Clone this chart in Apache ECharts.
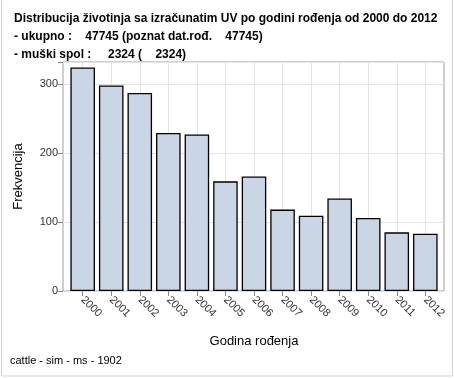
<!DOCTYPE html>
<html>
<head>
<meta charset="utf-8">
<script src="https://cdn.jsdelivr.net/npm/echarts@6/dist/echarts.min.js"></script>
<style>
  html, body { margin: 0; padding: 0; background: #fff; }
  #chart { width: 454px; height: 378px; }
</style>
</head>
<body>
<div id="chart"></div>
<script>
// godine rođenja i frekvencije (očitano sa slike)
const years = ['2000', '2001', '2002', '2003', '2004', '2005', '2006',
               '2007', '2008', '2009', '2010', '2011', '2012'];
const counts = [324, 298, 287, 229, 227, 159, 166, 118, 109, 134, 106, 85, 83];
const yTicks = [0, 100, 200, 300];
const yMax = 332;

const titleLines = [
    'Distribucija životinja sa izračunatim UV po godini rođenja od 2000 do 2012',
    '- ukupno :    47745 (poznat dat.rođ.    47745)',
    '- muški spol :     2324 (    2324)'
];
const footnote = 'cattle - sim - ms - 1902';

const font = '"Liberation Sans", Arial, sans-serif';
const myChart = echarts.init(document.getElementById('chart'), null, { renderer: 'canvas' });

const option = {
    animation: false,
    textStyle: { fontFamily: font },
    title: {
        text: titleLines.join('\n'),
        left: 9,
        top: 5,
        textStyle: { fontSize: 12, fontWeight: 'bold', color: '#000', lineHeight: 18, fontFamily: font }
    },
    graphic: [
        {
            type: 'rect',
            shape: { x: 1.5, y: -5, width: 451, height: 381 },
            style: { fill: null, stroke: '#d4d4d4', lineWidth: 1 },
            silent: true
        },
        {
            type: 'text',
            left: 10,
            top: 355,
            style: { text: footnote, fontSize: 11, fill: '#000', fontFamily: font }
        }
    ],
    grid: [
        // stupci (s razmakom na rubovima)
        { left: 68.4, right: 14.4, top: 62, bottom: 87 },
        // okvir i horizontalne linije
        { left: 63, right: 10, top: 62, bottom: 87, show: true, borderColor: '#a0a0a0', borderWidth: 1, backgroundColor: 'transparent' }
    ],
    xAxis: [
        {
            type: 'category',
            gridIndex: 0,
            data: years,
            name: 'Godina rođenja',
            nameLocation: 'middle',
            nameGap: 44,
            nameTextStyle: { fontSize: 13, color: '#000', fontFamily: font },
            axisLine: { show: false },
            axisTick: { show: true, alignWithLabel: true, length: 5, lineStyle: { color: '#888' } },
            axisLabel: { rotate: -45, margin: 7, fontSize: 11, color: '#333', interval: 0, fontFamily: font },
            splitLine: { show: true, alignWithLabel: true, interval: 0, lineStyle: { color: '#e3e3e3' } },
            z: 1
        },
        {
            type: 'category',
            gridIndex: 1,
            data: years,
            show: false
        }
    ],
    yAxis: [
        {
            type: 'value',
            gridIndex: 0,
            min: 0,
            max: yMax,
            interval: 100,
            show: false,
            splitLine: { show: false }
        },
        {
            type: 'value',
            gridIndex: 1,
            min: 0,
            max: yMax,
            interval: 100,
            name: 'Frekvencija',
            nameLocation: 'middle',
            nameRotate: 90,
            nameGap: 38,
            nameTextStyle: { fontSize: 13, color: '#000', fontFamily: font },
            axisLine: { show: false },
            axisTick: { show: true, length: 5, lineStyle: { color: '#888' } },
            axisLabel: {
                margin: 5,
                fontSize: 11,
                color: '#333',
                fontFamily: font,
                formatter: v => (yTicks.indexOf(v) >= 0 ? String(v) : '')
            },
            splitLine: { show: true, lineStyle: { color: '#e3e3e3' } }
        }
    ],
    series: [
        {
            type: 'bar',
            xAxisIndex: 0,
            yAxisIndex: 0,
            data: counts,
            barWidth: '86%',
            itemStyle: { color: '#cad5e5', borderColor: '#000', borderWidth: 1.3 },
            z: 3
        }
    ]
};

myChart.setOption(option);
</script>
</body>
</html>
